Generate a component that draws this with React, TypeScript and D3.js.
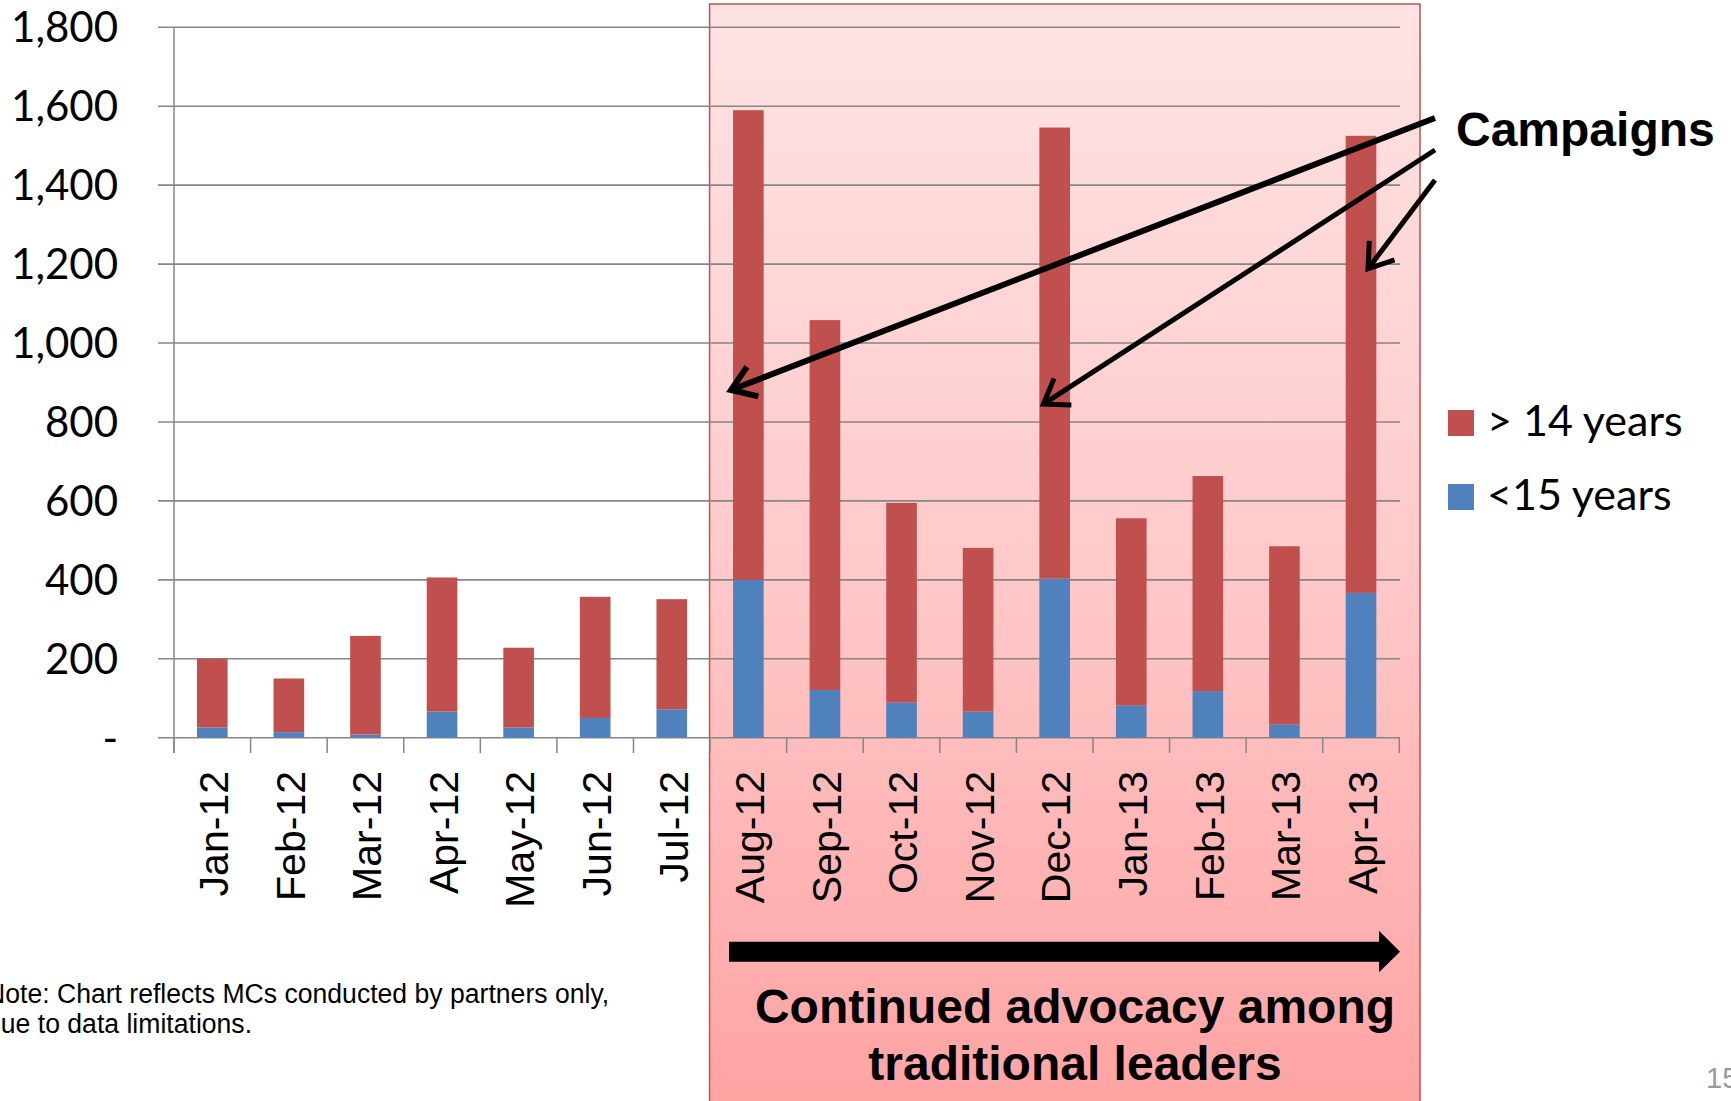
import React from "react";
import * as d3 from "d3";

const categories = ["Jan-12","Feb-12","Mar-12","Apr-12","May-12","Jun-12","Jul-12","Aug-12","Sep-12","Oct-12","Nov-12","Dec-12","Jan-13","Feb-13","Mar-13","Apr-13"];
const under15 = [26, 14, 8, 66, 26, 50, 72, 400, 121, 89, 66, 403, 82, 118, 34, 367];
const over14 = [174, 136, 250, 340, 202, 307, 279, 1190, 937, 506, 415, 1143, 474, 545, 451, 1158];
const yTicks = [0, 200, 400, 600, 800, 1000, 1200, 1400, 1600, 1800];
const seriesNames = ["> 14 years", "<15 years"];
const seriesColors = ["#c0504d", "#4f81bd"];
const highlightFrom = "Aug-12";
const campaignTargets = [
  { cat: "Aug-12", value: 881, side: "start", dx: -2 },
  { cat: "Dec-12", value: 845, side: "start", dx: 4 },
  { cat: "Apr-13", value: 1188, side: "mid", dx: 7 },
];

const W = 1731, H = 1101;

function arrowHead(x1: number, y1: number, x2: number, y2: number, len: number, ang: number) {
  const a = Math.atan2(y1 - y2, x1 - x2);
  const p1 = [x2 + len * Math.cos(a + ang), y2 + len * Math.sin(a + ang)];
  const p2 = [x2 + len * Math.cos(a - ang), y2 + len * Math.sin(a - ang)];
  return `M${p1[0]},${p1[1]}L${x2},${y2}L${p2[0]},${p2[1]}`;
}

export default function App() {
  const y = d3.scaleLinear().domain([0, 1800]).range([737.7, 27.3]);
  const x = d3.scaleBand<string>().domain(categories).range([174, 1399.3]).paddingInner(0.6).paddingOuter(0.3);
  const step = x.step();
  const bw = x.bandwidth();
  const stack = d3.stack<number>().keys(["u", "o"]).value((i, k) => (k === "u" ? under15[i] : over14[i]));
  const layers = stack(d3.range(categories.length));
  const layerColors = ["#4f81bd", "#c0504d"];
  const boundaries = d3.range(categories.length + 1).map((i) => 174 + i * step);
  const hlX = (x(highlightFrom) as number) - step * 0.3 - 0.5;

  const startPts = [[1435, 118], [1435, 150], [1435, 180]];

  return (
    <svg width={W} height={H} style={{ position: "absolute", left: 0, top: 0, background: "#fff" }}>
      <defs>
        <linearGradient id="hl" x1="0" y1="0" x2="0" y2="1">
          <stop offset="0" stopColor="#fee3e4" />
          <stop offset="0.5" stopColor="#ffcaca" />
          <stop offset="1" stopColor="#ffa3a3" />
        </linearGradient>
      </defs>
      <rect x={hlX} y={4} width={1420 - hlX} height={H} fill="url(#hl)" stroke="#c0504d" strokeWidth={1.5} />
      {yTicks.map((t) => (
        <line key={t} x1={158} x2={1400} y1={y(t)} y2={y(t)} stroke="#868686" strokeWidth={1.6} />
      ))}
      <line x1={174} x2={174} y1={y(1800)} y2={753} stroke="#868686" strokeWidth={1.5} />
      {boundaries.map((b, i) => (
        <line key={i} x1={b} x2={b} y1={y(0)} y2={753} stroke="#868686" strokeWidth={1.5} />
      ))}
      {layers.map((layer, li) =>
        layer.map((d, i) => (
          <rect key={li + "-" + i} x={x(categories[i])} width={bw} y={y(d[1])} height={y(d[0]) - y(d[1])} fill={layerColors[li]} />
        ))
      )}
      {yTicks.map((t) => (
        <text key={t} x={118} y={y(t)} dy="0.36em" textAnchor="end" fontFamily="Lato" fontSize={42} fill="#000">
          {t === 0 ? "-" : d3.format(",")(t)}
        </text>
      ))}
      {categories.map((c) => {
        const cx = (x(c) as number) + bw / 2 + 1;
        return (
          <text key={c} transform={`translate(${cx},771) rotate(-90)`} dy="0.36em" textAnchor="end" fontFamily="Liberation Sans, Arial" fontSize={41} fill="#000">
            {c}
          </text>
        );
      })}
      {campaignTargets.map((t, i) => {
        const bx = x(t.cat) as number;
        const tx = (t.side === "mid" ? bx + bw / 2 : bx) + t.dx;
        const ty = y(t.value);
        const [sx, sy] = startPts[i];
        return (
          <g key={i} stroke="#000" strokeWidth={i === 0 ? 6 : 5} fill="none" strokeLinecap="butt">
            <line x1={sx} y1={sy} x2={tx} y2={ty} />
            <path d={arrowHead(sx, sy, tx, ty, 28, 0.6)} />
          </g>
        );
      })}
      <text x={1456} y={146} fontFamily="Liberation Sans, Arial" fontWeight="bold" fontSize={48} fill="#000">Campaigns</text>
      {seriesNames.map((n, i) => (
        <g key={n}>
          <rect x={1448} y={410 + i * 74} width={26} height={26} fill={seriesColors[i]} />
          <text x={1487} y={436 + i * 74} fontFamily="Lato" fontSize={43} fill="#000">{n}</text>
        </g>
      ))}
      <path d="M729,941.7 L1379,941.7 L1379,930.7 L1400,951.7 L1379,972.3 L1379,961.7 L729,961.7 Z" fill="#000" />
      <text x={1075} y={1023} textAnchor="middle" fontFamily="Liberation Sans, Arial" fontWeight="bold" fontSize={48} fill="#000">Continued advocacy among</text>
      <text x={1075} y={1080} textAnchor="middle" fontFamily="Liberation Sans, Arial" fontWeight="bold" fontSize={48} fill="#000">traditional leaders</text>
      <g transform="translate(-14,0) scale(0.95,1)">
        <text x={0} y={1003} fontFamily="Liberation Sans, Arial" fontSize={28} fill="#000">Note: Chart reflects MCs conducted by partners only,</text>
        <text x={0} y={1033} fontFamily="Liberation Sans, Arial" fontSize={28} fill="#000">due to data limitations.</text>
      </g>
      <text x={1706} y={1088} fontFamily="Liberation Sans, Arial" fontSize={29} fill="#999">15</text>
    </svg>
  );
}
